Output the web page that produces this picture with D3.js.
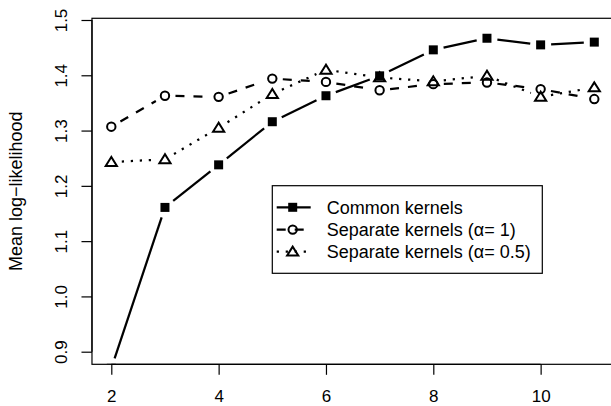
<!DOCTYPE html>
<html>
<head>
<meta charset="utf-8">
<script src="https://cdn.jsdelivr.net/npm/d3@7"></script>
<style>
  html, body { margin: 0; padding: 0; background: #fff; }
  svg { display: block; }
  text { font-family: "Liberation Sans", Arial, Helvetica, sans-serif; fill: #000; }
</style>
</head>
<body>
<svg id="chart" width="611" height="406"></svg>
<script>
// Number of components on the x axis
const components = [2, 3, 4, 5, 6, 7, 8, 9, 10, 11];

// Mean log-likelihood per model
const commonKernels    = [0.870, 1.161, 1.238, 1.316, 1.363, 1.399, 1.446, 1.467, 1.455, 1.460];
const separateAlpha1   = [1.307, 1.363, 1.361, 1.394, 1.388, 1.373, 1.384, 1.387, 1.375, 1.357];
const separateAlpha05  = [1.243, 1.248, 1.305, 1.366, 1.410, 1.396, 1.389, 1.399, 1.361, 1.378];

const seriesNames = ["Common kernels", "Separate kernels (\u03b1= 1)", "Separate kernels (\u03b1= 0.5)"];

const xTicks = [2, 4, 6, 8, 10];
const yTicks = [0.9, 1.0, 1.1, 1.2, 1.3, 1.4, 1.5];

const svg = d3.select("#chart");

// Scales: data range padded 4% on each side, like a base R plot
const x = d3.scaleLinear().domain([2, 11]).range([111.3, 594.3]);
const y = d3.scaleLinear().domain([0.9, 1.5]).range([351.7, 20]);

const xPad = 0.04 * (11 - 2);
const box = {
  left: x(2 - xPad),
  right: x(11 + xPad),
  top: y(1.5031),
  bottom: y(0.8772)
};

svg.append("defs").append("clipPath").attr("id", "plotClip")
  .append("rect")
  .attr("x", box.left).attr("y", box.top)
  .attr("width", box.right - box.left).attr("height", box.bottom - box.top);

const LW = 2.25;
const styles = [
  { values: commonKernels,   dash: null,                      shape: "square"   },
  { values: separateAlpha1,  dash: `${4*LW},${4*LW}`,         shape: "circle"   },
  { values: separateAlpha05, dash: `${1*LW},${3*LW}`,         shape: "triangle" }
];

// Marker drawing
function drawMarker(g, shape, cx, cy) {
  if (shape === "square") {
    g.append("rect").attr("x", cx - 4.5).attr("y", cy - 4.5)
      .attr("width", 9).attr("height", 9).attr("fill", "#000");
  } else if (shape === "circle") {
    g.append("circle").attr("cx", cx).attr("cy", cy).attr("r", 4.2)
      .attr("fill", "none").attr("stroke", "#000").attr("stroke-width", 2);
  } else {
    const r = 5.6;
    const h = r * Math.sqrt(3) / 2;
    const pts = [[cx, cy - h * 1.05], [cx - r, cy + h * 0.8], [cx + r, cy + h * 0.8]];
    g.append("polygon").attr("points", pts.map(p => p.join(",")).join(" "))
      .attr("fill", "none").attr("stroke", "#000").attr("stroke-width", 2)
      .attr("stroke-linejoin", "miter");
  }
}

// Series: segments with a gap around each point (type "b")
const GAP = 10.5;
const plot = svg.append("g").attr("clip-path", "url(#plotClip)");

styles.forEach(s => {
  const g = plot.append("g");
  const pts = components.map((c, i) => [x(c), y(s.values[i])]);
  for (let i = 0; i < pts.length - 1; i++) {
    const [x0, y0] = pts[i], [x1, y1] = pts[i + 1];
    const len = Math.hypot(x1 - x0, y1 - y0);
    if (len <= 2 * GAP) continue;
    const ux = (x1 - x0) / len, uy = (y1 - y0) / len;
    const seg = g.append("line")
      .attr("x1", x0 + ux * GAP).attr("y1", y0 + uy * GAP)
      .attr("x2", x1 - ux * GAP).attr("y2", y1 - uy * GAP)
      .attr("stroke", "#000").attr("stroke-width", LW);
    if (s.dash) seg.attr("stroke-dasharray", s.dash);
  }
  pts.forEach(p => drawMarker(g, s.shape, p[0], p[1]));
});

// Plot frame
svg.append("rect")
  .attr("x", box.left).attr("y", box.top)
  .attr("width", box.right - box.left).attr("height", box.bottom - box.top)
  .attr("fill", "none").attr("stroke", "#000").attr("stroke-width", 1.2);

// X axis
const xAxis = svg.append("g").attr("transform", `translate(0,${box.bottom})`)
  .call(d3.axisBottom(x).tickValues(xTicks).tickSize(10.5).tickFormat(d3.format("d")));
xAxis.select(".domain").attr("d", `M${x(2)},0H${x(10)}`).attr("stroke-width", 1.2);
xAxis.selectAll(".tick line").attr("stroke-width", 1.2);
xAxis.selectAll("text").attr("font-size", 17).attr("font-family", null)
  .attr("dy", null).attr("y", 37.8);

// Y axis with labels parallel to the axis
const yAxis = svg.append("g").attr("transform", `translate(${box.left},0)`)
  .call(d3.axisLeft(y).tickValues(yTicks).tickSize(10.5).tickFormat(d3.format(".1f")));
yAxis.select(".domain").attr("d", `M0,${y(0.9)}V${y(1.5)}`).attr("stroke-width", 1.2);
yAxis.selectAll(".tick line").attr("stroke-width", 1.2);
yAxis.selectAll("text")
  .attr("font-size", 17).attr("font-family", null)
  .attr("x", null).attr("dy", null)
  .attr("text-anchor", "middle")
  .attr("transform", `translate(${67 - box.left},0) rotate(-90)`);

// Axis title
svg.append("text")
  .attr("transform", `translate(21.5,${(box.top + box.bottom) / 2}) rotate(-90)`)
  .attr("text-anchor", "middle").attr("font-size", 18)
  .text("Mean log\u2212likelihood");

// Legend
const legend = { left: 272.3, top: 185.7, right: 542.3, bottom: 273.3 };
svg.append("rect")
  .attr("x", legend.left).attr("y", legend.top)
  .attr("width", legend.right - legend.left).attr("height", legend.bottom - legend.top)
  .attr("fill", "#fff").attr("stroke", "#000").attr("stroke-width", 1.2);

const rowY = [207.3, 229.6, 251.7];
styles.forEach((s, i) => {
  const g = svg.append("g");
  const seg = g.append("line")
    .attr("x1", 276.7).attr("x2", 310.7)
    .attr("y1", rowY[i]).attr("y2", rowY[i])
    .attr("stroke", "#000").attr("stroke-width", LW);
  if (s.dash) seg.attr("stroke-dasharray", s.dash);
  drawMarker(g, s.shape, 292.7, rowY[i]);
  g.append("text")
    .attr("x", 326.7).attr("y", rowY[i]).attr("dy", "0.35em")
    .attr("font-size", 18).text(seriesNames[i]);
});
</script>
</body>
</html>
